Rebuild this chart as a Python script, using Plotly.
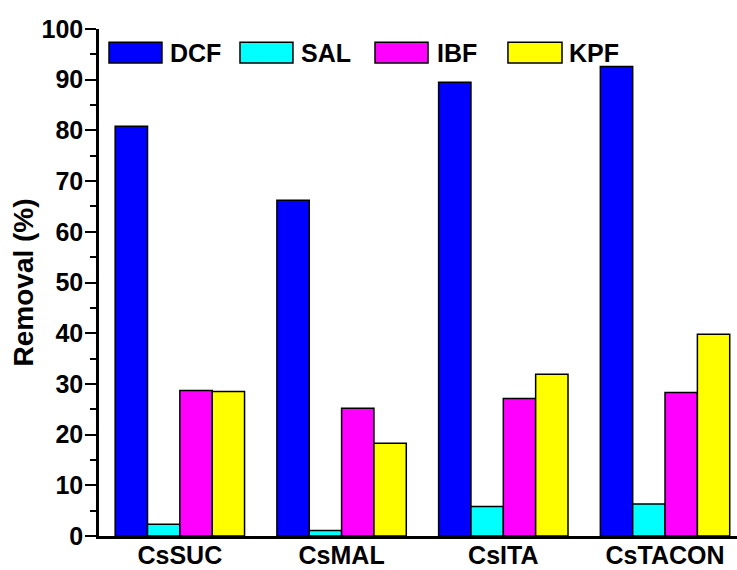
import plotly.graph_objects as go

# Removal efficiency (%) of four pharmaceuticals on each sorbent
sorbents = ["CsSUC", "CsMAL", "CsITA", "CsTACON"]
dcf = [80.8, 66.2, 89.5, 92.6]
sal = [2.3, 1.1, 5.8, 6.3]
ibf = [28.7, 25.2, 27.1, 28.3]
kpf = [28.5, 18.3, 31.9, 39.8]

series = [
    ("DCF", dcf, "#0000FF"),
    ("SAL", sal, "#00FFFF"),
    ("IBF", ibf, "#FF00FF"),
    ("KPF", kpf, "#FFFF00"),
]

FONT = "Liberation Sans, Arial, sans-serif"
XRANGE = [-0.5, 3.445]

fig = go.Figure()
for name, vals, color in series:
    fig.add_trace(go.Bar(
        x=list(range(len(sorbents))), y=vals, name=name,
        marker=dict(color=color, line=dict(color="#000000", width=1.5)),
        showlegend=False,
    ))

# Hand-built legend row: wide swatches with bold labels
legend_x = [(0.0157, 0.0987, 0.108), (0.221, 0.304, 0.314),
            (0.4326, 0.5157, 0.527), (0.641, 0.7257, 0.733)]
for (name, _, color), (x0, x1, xt) in zip(series, legend_x):
    fig.add_shape(type="rect", xref="paper", yref="paper",
                  x0=x0, x1=x1, y0=0.933, y1=0.974,
                  fillcolor=color, line=dict(color="#000000", width=1.5))
    fig.add_annotation(xref="paper", yref="paper", x=xt, y=0.9536,
                       xanchor="left", yanchor="middle", showarrow=False,
                       text=f"<b>{name}</b>",
                       font=dict(family=FONT, size=25, color="#000000"))

# Y-axis title placed close to the tick labels
fig.add_annotation(xref="paper", yref="paper", x=-0.1176, y=0.5,
                   xanchor="center", yanchor="middle", showarrow=False,
                   textangle=-90, text="<b>Removal (%)</b>",
                   font=dict(family=FONT, size=28, color="#000000"))

fig.update_layout(
    width=737, height=570,
    margin=dict(l=99, r=0, t=29, b=34, autoexpand=False),
    paper_bgcolor="white", plot_bgcolor="white",
    barmode="group", bargap=0.2, bargroupgap=0,
    font=dict(family=FONT, color="#000000"),
    xaxis=dict(
        range=XRANGE, tickvals=list(range(len(sorbents))),
        ticktext=[f"<b>{s}</b>" for s in sorbents], automargin=False,
        tickfont=dict(size=25), ticks="", ticklabelstandoff=-5,
        showgrid=False, zeroline=False,
        showline=True, linecolor="#000000", linewidth=2.5,
    ),
    # inward ticks on the bottom edge between groups
    xaxis3=dict(
        overlaying="x", anchor="y", side="bottom", range=XRANGE,
        tickvals=[0.5, 1.5, 2.5], showticklabels=False, automargin=False,
        ticks="inside", ticklen=5, tickwidth=2, tickcolor="#000000",
        showgrid=False, zeroline=False, showline=False,
    ),
    # top frame with inward major/minor ticks
    xaxis2=dict(
        overlaying="x", anchor="y", side="top", range=XRANGE,
        tickmode="linear", tick0=-0.5, dtick=0.5, showticklabels=False,
        automargin=False,
        ticks="inside", ticklen=10, tickwidth=2, tickcolor="#000000",
        minor=dict(ticks="inside", ticklen=5, tickwidth=2, tickcolor="#000000",
                   dtick=0.25, tick0=-0.5),
        showgrid=False, zeroline=False,
        showline=True, linecolor="#000000", linewidth=2.5,
    ),
    yaxis=dict(
        range=[0, 100], tickmode="linear", tick0=0, dtick=10, automargin=False,
        tickfont=dict(size=25), tickprefix="<b>", ticksuffix="</b>",
        ticklabelstandoff=-3,
        ticks="outside", ticklen=11, tickwidth=2, tickcolor="#000000",
        minor=dict(ticks="outside", ticklen=6, tickwidth=2,
                   tickcolor="#000000", dtick=5),
        showgrid=False, zeroline=False,
        showline=True, linecolor="#000000", linewidth=2.5,
    ),
    yaxis2=dict(
        overlaying="y", side="right", anchor="x", range=[0, 100],
        tickmode="linear", tick0=0, dtick=10, showticklabels=False,
        automargin=False,
        ticks="inside", ticklen=3, tickwidth=2, tickcolor="#000000",
        showgrid=False, zeroline=False, showline=False,
    ),
)

fig.write_html("out.html")
